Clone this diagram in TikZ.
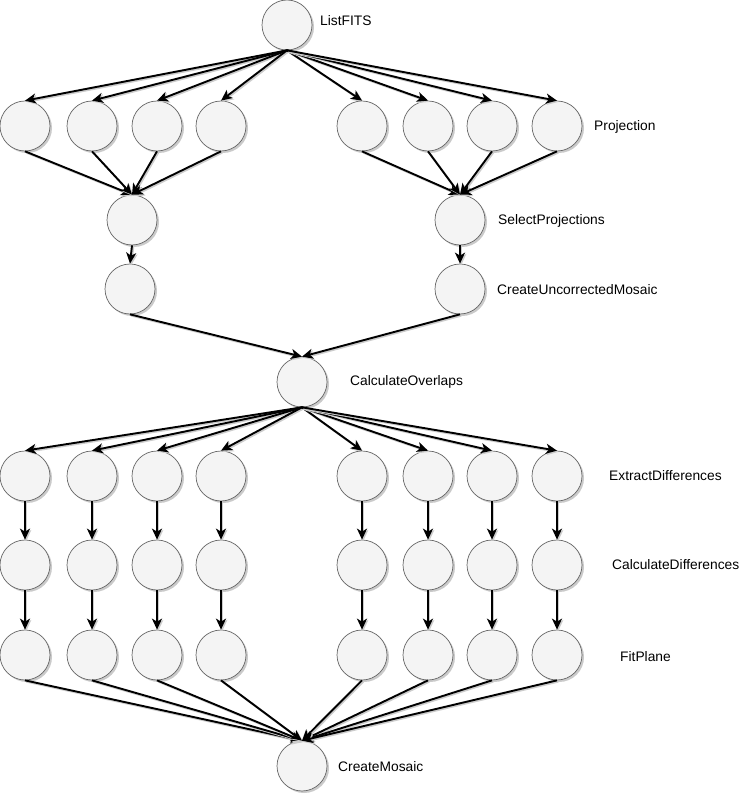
\documentclass[tikz,border=0pt]{standalone}
\usepackage{fontspec}
\setmainfont{Liberation Sans}
\usetikzlibrary{arrows.meta,shadows}
\definecolor{jobfill}{HTML}{F4F4F4}
\definecolor{jobline}{HTML}{666666}
\begin{document}
\begin{tikzpicture}[x=1pt,y=-1pt,
  job/.style={circle,draw=jobline,line width=0.7pt,fill=jobfill,minimum size=50pt,inner sep=0pt,
    drop shadow={shadow xshift=2pt,shadow yshift=-2pt,fill=black!35,opacity=0.6}},
  lbl/.style={anchor=west,inner sep=0pt,font=\fontsize{13.8}{16}\selectfont},
  dep/.style={line width=1.9pt,-{Stealth[length=11pt,width=10pt,inset=3pt]},
    preaction={draw=black!20,line width=1.9pt,transform canvas={shift={(1.3pt,-1.3pt)}}}}]
\useasboundingbox (0,0) rectangle (740,794);

% workflow jobs
\node[job] (lf) at (287,25) {};
\foreach \i/\x in {1/25,2/92,3/157,4/221,5/362,6/428,7/492,8/557}{
  \node[job] (p\i) at (\x,126) {};
  \node[job] (e\i) at (\x,476) {};
  \node[job] (d\i) at (\x,565) {};
  \node[job] (f\i) at (\x,655) {};
}
\node[job] (s1) at (132,220) {};
\node[job] (s2) at (460,220) {};
\node[job] (u1) at (130,289) {};
\node[job] (u2) at (460,289) {};
\node[job] (co) at (302,382) {};
\node[job] (cm) at (302,766) {};

% stage names
\node[lbl] (tlf) at (320,21) {ListFITS};
\node[lbl] (tp) at (594,127) {Projection};
\node[lbl] (ts) at (498,221) {SelectProjections};
\node[lbl] (tu) at (497,290) {CreateUncorrectedMosaic};
\node[lbl] (tco) at (350,382) {CalculateOverlaps};
\node[lbl] (te) at (609,476) {ExtractDifferences};
\node[lbl] (td) at (612,565) {CalculateDifferences};
\node[lbl] (tf) at (620,657) {FitPlane};
\node[lbl] (tcm) at (338,767) {CreateMosaic};

% dependencies
\foreach \i in {1,...,8}{
  \draw[dep] (lf.south) -- (p\i.north);
  \draw[dep] (co.south) -- (e\i.north);
  \draw[dep] (e\i.south) -- (d\i.north);
  \draw[dep] (d\i.south) -- (f\i.north);
  \draw[dep] (f\i.south) -- (cm.north);
}
\foreach \i in {1,...,4}{\draw[dep] (p\i.south) -- (s1.north);}
\foreach \i in {5,...,8}{\draw[dep] (p\i.south) -- (s2.north);}
\draw[dep] (s1.south) -- (u1.north);
\draw[dep] (s2.south) -- (u2.north);
\draw[dep] (u1.south) -- (co.north);
\draw[dep] (u2.south) -- (co.north);
\end{tikzpicture}
\end{document}
